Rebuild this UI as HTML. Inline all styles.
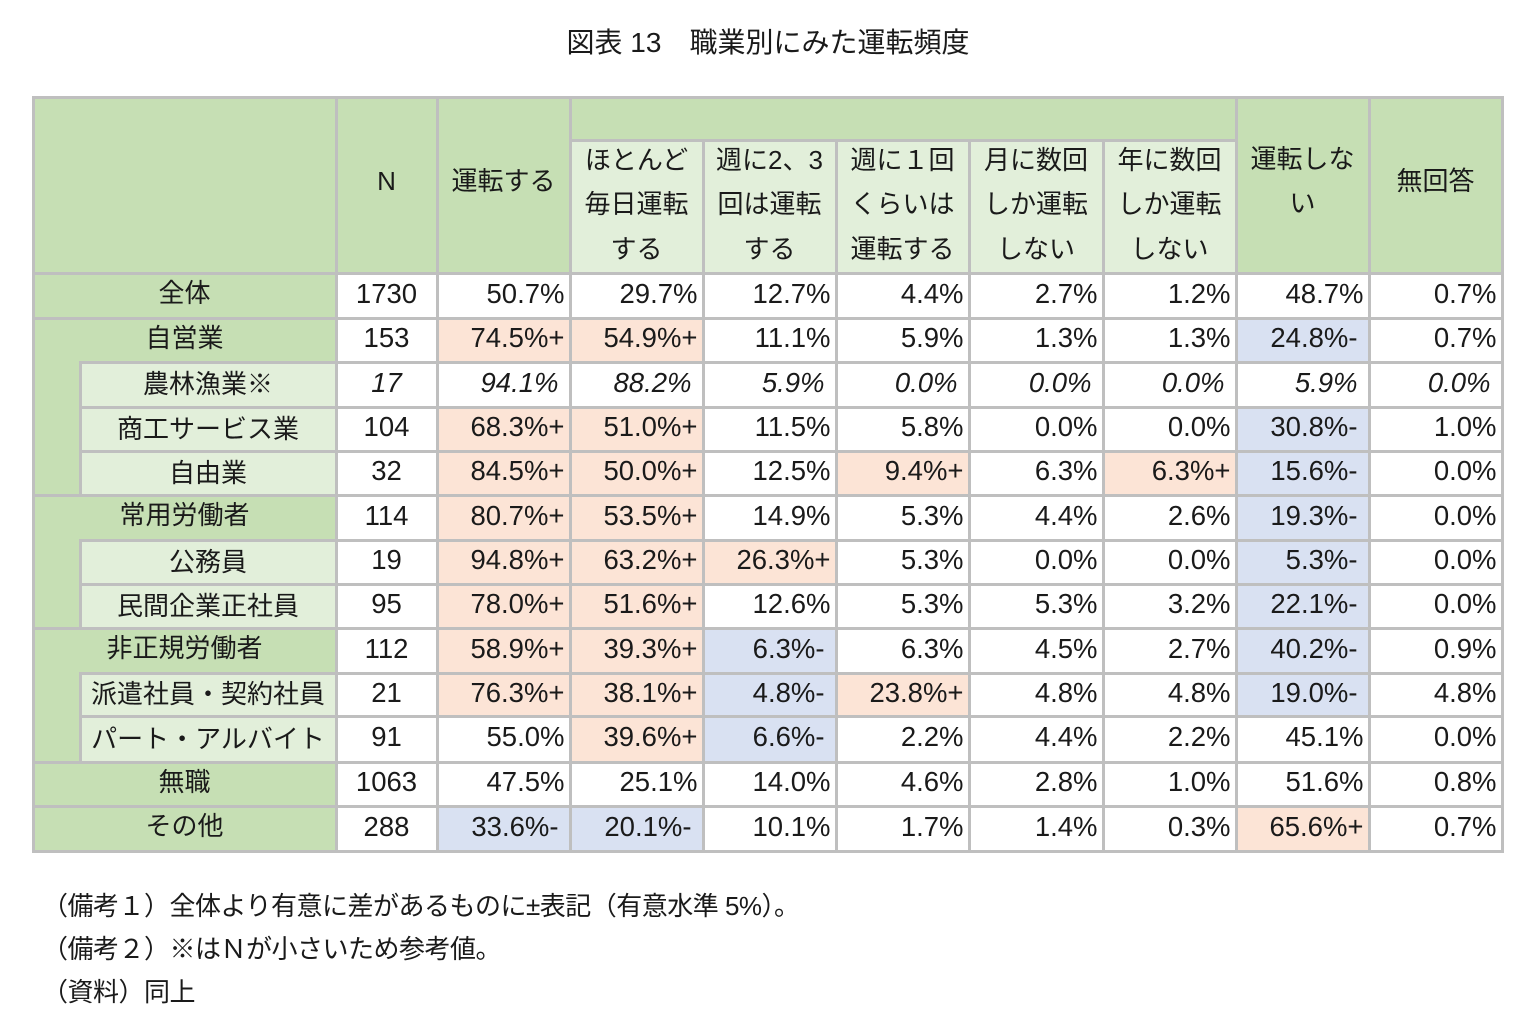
<!DOCTYPE html>
<html><head><meta charset="utf-8">
<style>
body{margin:0;width:1536px;height:1032px;background:#fff;position:relative;overflow:hidden;font-family:"Liberation Sans","Noto Sans CJK JP",sans-serif;color:#1a1a1a}
.c{position:absolute;box-sizing:border-box;font-size:26px;display:flex;align-items:center;white-space:nowrap}
.num{font-size:27.5px;padding-bottom:4px}
#grid{position:absolute;left:0;top:0;width:1536px;height:1032px}
.t{position:absolute;white-space:nowrap}
</style></head><body>
<div class="t" style="left:0;width:1536px;text-align:center;top:21px;font-size:28px">図表 13　職業別にみた運転頻度</div>
<div id="grid"></div>
<div class="t" style="left:42px;top:886px;font-size:26px;letter-spacing:-0.5px">（備考１）全体より有意に差があるものに±表記（有意水準 5%）。</div>
<div class="t" style="left:42px;top:929px;font-size:26px;letter-spacing:-0.5px">（備考２）※はＮが小さいため参考値。</div>
<div class="t" style="left:42px;top:972px;font-size:26px;letter-spacing:-0.5px">（資料）同上</div>
<script>
const colEdges=[33,336,437,570,703,836,969,1103,1236,1369,1502];
const rowEdges=[273,318,362,407,451,495,540,584,628,673,716,762,806,851];
const rowLabels=["全体","自営業","農林漁業※","商工サービス業","自由業","常用労働者","公務員","民間企業正社員","非正規労働者","派遣社員・契約社員","パート・アルバイト","無職","その他"];
const rowLevel=[0,0,1,1,1,0,1,1,0,1,1,0,0];
const nValues=["1730","153","17","104","32","114","19","95","112","21","91","1063","288"];
const colDrive=["50.7%","74.5%+","94.1%","68.3%+","84.5%+","80.7%+","94.8%+","78.0%+","58.9%+","76.3%+","55.0%","47.5%","33.6%-"];
const colDaily=["29.7%","54.9%+","88.2%","51.0%+","50.0%+","53.5%+","63.2%+","51.6%+","39.3%+","38.1%+","39.6%+","25.1%","20.1%-"];
const colWeek23=["12.7%","11.1%","5.9%","11.5%","12.5%","14.9%","26.3%+","12.6%","6.3%-","4.8%-","6.6%-","14.0%","10.1%"];
const colWeek1=["4.4%","5.9%","0.0%","5.8%","9.4%+","5.3%","5.3%","5.3%","6.3%","23.8%+","2.2%","4.6%","1.7%"];
const colMonth=["2.7%","1.3%","0.0%","0.0%","6.3%","4.4%","0.0%","5.3%","4.5%","4.8%","4.4%","2.8%","1.4%"];
const colYear=["1.2%","1.3%","0.0%","0.0%","6.3%+","2.6%","0.0%","3.2%","2.7%","4.8%","2.2%","1.0%","0.3%"];
const colNoDrive=["48.7%","24.8%-","5.9%","30.8%-","15.6%-","19.3%-","5.3%-","22.1%-","40.2%-","19.0%-","45.1%","51.6%","65.6%+"];
const colNoAns=["0.7%","0.7%","0.0%","1.0%","0.0%","0.0%","0.0%","0.0%","0.9%","4.8%","0.0%","0.8%","0.7%"];
const valueCols=[colDrive,colDaily,colWeek23,colWeek1,colMonth,colYear,colNoDrive,colNoAns];
const G="#c6dfb4",LG="#e2efda",PK="#fce4d6",BL="#d9e1f2",BD="#bfbfbf";
const grid=document.getElementById('grid');
function rect(x0,y0,x1,y1,bg){const d=document.createElement('div');d.className='c';d.style.left=(x0+1.5)+'px';d.style.top=(y0+1.5)+'px';d.style.width=(x1-x0-3)+'px';d.style.height=(y1-y0-3)+'px';d.style.background=bg;grid.appendChild(d);return d;}
const bgd=document.createElement('div');


bgd.style.cssText='position:absolute;left:31.5px;top:95.5px;width:1472px;height:757px;background:'+BD;
grid.appendChild(bgd);
let h=rect(33,97,336,273,G);


const topHeads=[["N",336,437],["運転する",437,570],["運転しない",1236,1369],["無回答",1369,1502]];
topHeads.forEach(([t,a,b])=>{const d=rect(a,97,b,273,G);d.style.justifyContent='center';d.style.textAlign='center';d.style.lineHeight='44px';d.style.paddingBottom='8px';
if(t==="運転しない"){d.innerHTML='運転しな<br>い';d.style.alignItems='flex-start';d.style.paddingTop='38px';}else d.textContent=t;

});
const band=rect(570,97,1236,140,G);


const subHeads=["ほとんど<br>毎日運転<br>する","週に2、3<br>回は運転<br>する","週に１回<br>くらいは<br>運転する","月に数回<br>しか運転<br>しない","年に数回<br>しか運転<br>しない"];
subHeads.forEach((t,i)=>{const d=rect(colEdges[3+i],140,colEdges[4+i],273,LG);d.innerHTML=t;d.style.justifyContent='center';d.style.textAlign='center';d.style.lineHeight='44.5px';d.style.paddingBottom='4px';

});
for(let r=0;r<rowLabels.length;r++){
 const y0=rowEdges[r],y1=rowEdges[r+1];
 const lv=rowLevel[r];
 const lab=rect(lv?80:33,y0,336,y1,lv?LG:G);
 lab.textContent=rowLabels[r];lab.style.justifyContent='center';
 lab.style.paddingBottom=lv?'4px':'8px';
 
 
 const it=rowLabels[r].includes('※');
 const n=rect(336,y0,437,y1,'#fff');n.classList.add('num');n.textContent=nValues[r];n.style.justifyContent='center';if(it)n.style.fontStyle='italic';
 
 
 valueCols.forEach((col,c)=>{const v=col[r];const bg=v.endsWith('+')?PK:v.endsWith('-')?BL:'#fff';
  const d=rect(colEdges[2+c],y0,colEdges[3+c],y1,bg);d.classList.add('num');d.textContent=v;d.style.justifyContent='flex-end';d.style.paddingRight=v.endsWith('-')?'10px':'4px';
  if(it){d.style.fontStyle='italic';d.style.paddingRight='10px';}
  
  });
}
[[1,4],[5,7],[8,10]].forEach(([a,b])=>{const d=document.createElement('div');d.style.cssText='position:absolute;left:34.5px;top:'+(rowEdges[a]+1.5)+'px;width:44px;height:'+(rowEdges[b+1]-rowEdges[a]-3)+'px;background:'+G;


grid.appendChild(d);});
</script>
</body></html>
